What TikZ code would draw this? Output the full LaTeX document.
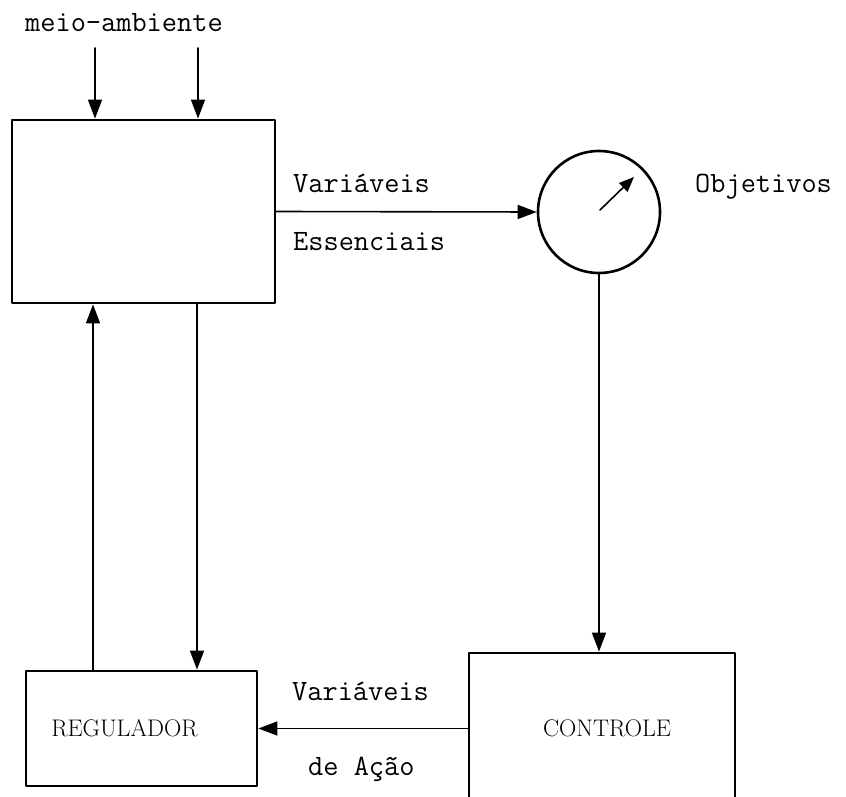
\documentclass[tikz,border=0pt]{standalone}
\usepackage{fontspec}
\usetikzlibrary{arrows.meta}

\begin{document}
\begin{tikzpicture}[x=1pt,y=-1pt,line cap=round,line join=round,
    blk/.style={draw,line width=2.8pt,inner sep=0pt},
    flow/.style={line width=1.6pt,-{Triangle[length=19pt,width=14pt]}},
    lbl/.style={font=\fontsize{29.5}{34}\selectfont\ttfamily,inner sep=0pt,anchor=base west},
    boxtext/.style={font=\fontsize{24}{28}\selectfont\rmfamily,inner sep=0pt}]
  \useasboundingbox (0,0) rectangle (846,797);
  \clip (0,0) rectangle (846,797);
  % blocks
  \node[blk,minimum width=263pt,minimum height=183pt] (amb) at (143.5,211.5) {};
  \node[draw,circle,line width=2.6pt,minimum size=122pt,inner sep=0pt] (obj) at (599,212) {};
  \node[blk,minimum width=231pt,minimum height=115pt] (reg) at (141.5,728.5) {};
  \node[blk,minimum width=266pt,minimum height=151pt] (ctl) at (602,728.5) {};
  \node[boxtext] (regname) at ([xshift=-17pt]reg.center) {REGULADOR};
  \node[boxtext] (ctlname) at ([xshift=5pt]ctl.center) {CONTROLE};
  % texts
  \node[lbl] (env) at (25,32) {meio-ambiente};
  \node[lbl] (ve1) at (293,193) {Variáveis};
  \node[lbl] (ve2) at (293,250) {Essenciais};
  \node[lbl] (goal) at (695,193) {Objetivos};
  \node[lbl] (va1) at (292,700) {Variáveis};
  \node[lbl] (va2) at (308,775) {de Ação};
  % pointer
  \draw[line width=1.6pt,-{Triangle[length=15pt,width=12pt]}]
    ([shift={(1,-2)}]obj.center) -- ([shift={(35,-35)}]obj.center);
  % connectors
  \coordinate (in1) at (95,48);
  \coordinate (in2) at (198,48);
  \coordinate (up) at ([xshift=-48.5pt]reg.north);
  \coordinate (dn) at ([xshift=55.5pt]reg.north);
  \draw[flow] (in1) -- (in1 |- amb.north);
  \draw[flow] (in2) -- (in2 |- amb.north);
  \draw[flow] (amb.east) -- (obj.west);
  \draw[flow] (obj.south) -- (obj.south |- ctl.north);
  \draw[flow] (ctl.west) -- (reg.east);
  \draw[flow] (up) -- (up |- amb.south);
  \draw[flow] (dn |- amb.south) -- (dn);
\end{tikzpicture}
\end{document}
